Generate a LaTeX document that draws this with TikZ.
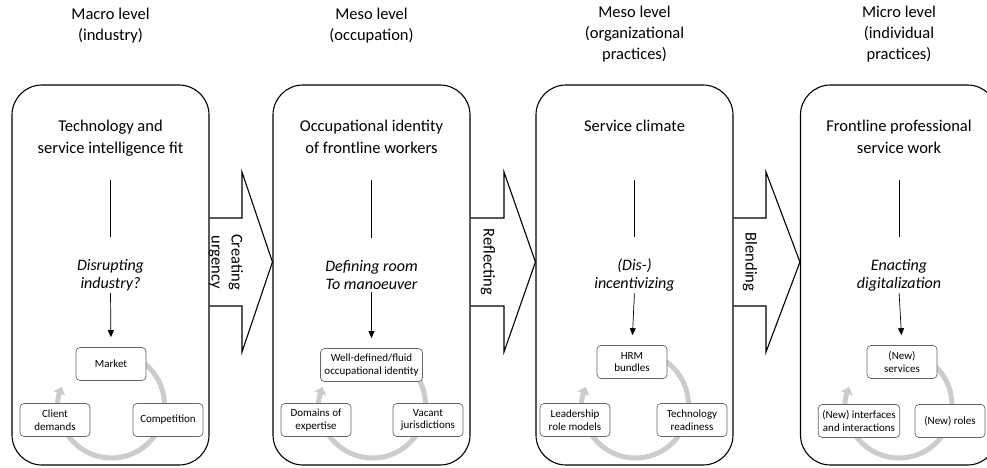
\documentclass[tikz,border=0pt]{standalone}
\usepackage{fontspec}
\setmainfont{Carlito}
\usetikzlibrary{arrows.meta}

\tikzset{
  panel/.style={draw, line width=1.1pt, rounded corners=30pt, minimum width=197pt, minimum height=380pt},
  levelhead/.style={anchor=north, align=center, inner sep=0pt, font=\fontsize{16.5}{21}\selectfont},
  heading/.style={anchor=north, align=center, inner sep=0pt, font=\fontsize{16.5}{22}\selectfont},
  process/.style={align=center, inner sep=0pt, font=\fontsize{16}{18}\selectfont\itshape},
  element/.style={draw=black!60, fill=white, line width=0.7pt, rounded corners=4pt, align=center,
    minimum width=70pt, minimum height=33pt, inner xsep=4pt, font=\fontsize{11}{12.5}\selectfont},
  loopback/.style={line width=5pt, draw=black!20, -{Triangle[length=7pt,width=12pt,fill=black!20]}},
  link/.style={line width=0.7pt},
  blockarrow/.style={line width=1.1pt},
  arrowlabel/.style={rotate=-90, align=center, inner sep=0pt, font=\fontsize{16.5}{20}\selectfont}
}

\begin{document}
\begin{tikzpicture}[x=1pt,y=1pt]
    \useasboundingbox (0,0) rectangle (987,-468);
    \clip (0,0) rectangle (987,-468);

    \node [levelhead] (h1) at (110.5,-8) {Macro level\\(industry)};
    \node [levelhead] (h2) at (371.5,-8) {Meso level\\(occupation)};
    \node [levelhead] (h3) at (634.5,-6) {Meso level\\(organizational\\practices)};
    \node [levelhead] (h4) at (899,-6) {Micro level\\(individual\\practices)};

    \node [panel] (p1) at (110.5,-275) {};
    \node [panel] (p2) at (371.5,-275) {};
    \node [panel] (p3) at (634.5,-275) {};
    \node [panel] (p4) at (899,-275) {};

    \draw [blockarrow] (p1.east |- 0,-218) -- (242,-218) -- (242,-172) -- (p2.west |- 0,-262) -- (242,-352) -- (242,-306) -- (p1.east |- 0,-306);
    \node [arrowlabel] (a1) at (226,-262) {Creating\\urgency};
    \draw [blockarrow] (p2.east |- 0,-218) -- (504,-218) -- (504,-172) -- (p3.west |- 0,-262) -- (504,-352) -- (504,-306) -- (p2.east |- 0,-306);
    \node [arrowlabel] (a2) at (488,-262) {Reflecting};
    \draw [blockarrow] (p3.east |- 0,-218) -- (766,-218) -- (766,-172) -- (p4.west |- 0,-262) -- (766,-352) -- (766,-306) -- (p3.east |- 0,-306);
    \node [arrowlabel] (a3) at (750,-262) {Blending};

    \node [heading] (t1) at (110.5,-120) {Technology and\\service intelligence fit};
    \node [heading] (t2) at (371.5,-120) {Occupational identity\\of frontline workers};
    \node [heading] (t3) at (634.5,-120) {Service climate};
    \node [heading] (t4) at (899,-120) {Frontline professional\\service work};

    \coordinate (s1) at (110.5,-180);
    \coordinate (s2) at (371.5,-180);
    \coordinate (s3) at (634.5,-180);
    \coordinate (s4) at (899,-180);

    \node [process] (d1) at (110.5,-275) {Disrupting\\industry?};
    \node [process] (d2) at (371.5,-275) {Defining room\\To manoeuver};
    \node [process] (d3) at (634.5,-275) {(Dis-)\\incentivizing};
    \node [process] (d4) at (899,-275) {Enacting\\digitalization};

    \coordinate (c1) at (111.5,-405);
    \coordinate (c2) at (372.5,-405);
    \coordinate (c3) at (635.5,-405);
    \coordinate (c4) at (899,-405);
    \draw [loopback] (c1) ++(60:53) arc (60:-200:53);
    \draw [loopback] (c2) ++(60:53) arc (60:-200:53);
    \draw [loopback] (c3) ++(60:53) arc (60:-200:53);
    \draw [loopback] (c4) ++(60:53) arc (60:-200:53);

    \node [element] (m1) at (111,-364) {Market};
    \node [element] (l1) at (55,-420) {Client\\demands};
    \node [element] (r1) at (168,-420) {Competition};
    \node [element] (m2) at (371.5,-365) {Well-defined/fluid\\occupational identity};
    \node [element] (l2) at (316,-420) {Domains of\\expertise};
    \node [element] (r2) at (428,-420) {Vacant\\jurisdictions};
    \node [element] (m3) at (632,-362) {HRM\\bundles};
    \node [element] (l3) at (575,-420) {Leadership\\role models};
    \node [element] (r3) at (692,-420) {Technology\\readiness};
    \node [element] (m4) at (902,-362) {(New)\\services};
    \node [element] (l4) at (859,-421) {(New) interfaces\\and interactions};
    \node [element] (r4) at (950,-421) {(New) roles};

    \draw [link, shorten >=22pt] (s1) -- (d1.north);
    \draw [link, -{Triangle[length=7pt,width=6pt]}, shorten <=2pt, shorten >=10pt] (d1.south) -- (m1.north);
    \draw [link, shorten >=22pt] (s2) -- (d2.north);
    \draw [link, -{Triangle[length=7pt,width=6pt]}, shorten <=2pt, shorten >=10pt] (d2.south) -- (m2.north);
    \draw [link, shorten >=22pt] (s3) -- (d3.north);
    \draw [link, -{Triangle[length=7pt,width=6pt]}, shorten <=2pt, shorten >=10pt] (d3.south) -- (m3.north);
    \draw [link, shorten >=22pt] (s4) -- (d4.north);
    \draw [link, -{Triangle[length=7pt,width=6pt]}, shorten <=2pt, shorten >=10pt] (d4.south) -- (m4.north);
\end{tikzpicture}
\end{document}
